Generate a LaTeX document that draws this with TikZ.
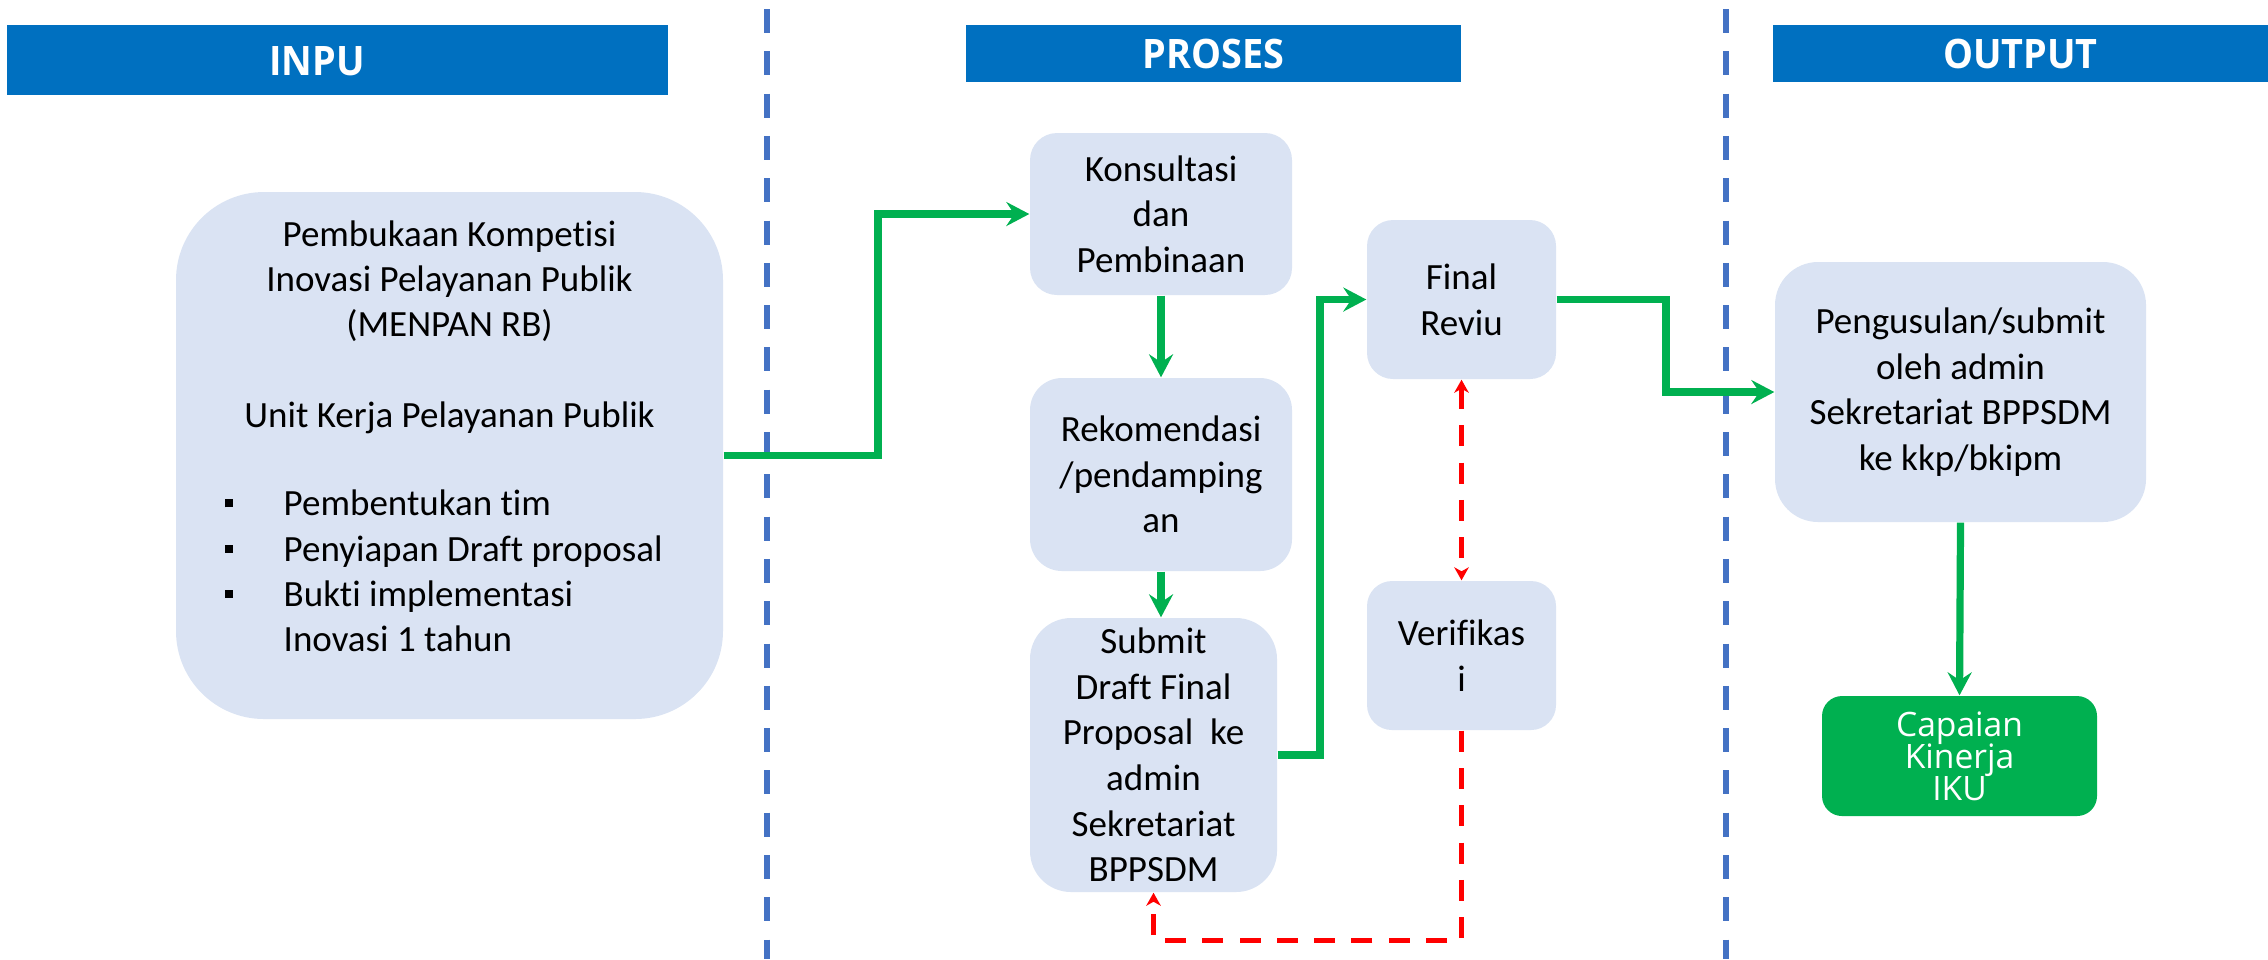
\documentclass[tikz,border=0pt]{standalone}
\usepackage{fontspec}
\setmainfont{Carlito}[Ligatures={NoCommon,NoRequired,NoContextual}, Contextuals=NoAlternate]
\newfontfamily\headfont{Open Sans}[FakeStretch=0.93]
\newfontfamily\goalfont{Open Sans}
\usetikzlibrary{arrows.meta}
\definecolor{boxfill}{HTML}{DAE3F3}
\definecolor{headblue}{HTML}{0070C0}
\definecolor{sepblue}{HTML}{4472C4}
\definecolor{flowgreen}{HTML}{00B050}
\definecolor{backred}{HTML}{FF0000}
\newcommand{\listmark}{\makebox[5.9mm][l]{\rule[0.85mm]{0.8mm}{0.8mm}}}
\begin{document}
% tight lines in the green result box must not fall back to \lineskip
\lineskiplimit=-5mm\relax
\begin{tikzpicture}[x=0.1mm,y=-0.1mm,
  stepbox/.style={fill=boxfill, draw=none, inner sep=0pt, align=center,
    font=\fontsize{3.7mm}{4.56mm}\selectfont},
  bodytext/.style={inner sep=0pt, font=\fontsize{3.7mm}{4.53mm}\selectfont},
  headbar/.style={fill=headblue, draw=none, inner sep=0pt, text=white,
    font=\headfont\bfseries\fontsize{4.06mm}{4.9mm}\selectfont},
  headtext/.style={inner sep=0pt, text=white,
    font=\headfont\bfseries\fontsize{4.06mm}{4.9mm}\selectfont},
  goal/.style={fill=flowgreen, draw=none, text=white, inner sep=0pt, align=center,
    font=\goalfont\fontsize{3.36mm}{3.2mm}\selectfont},
  flow/.style={draw=flowgreen, line width=0.72mm,
    -{Stealth[length=2.3mm,width=2.4mm,inset=0.8mm]}},
  checkline/.style={draw=backred, line width=0.5mm, dash pattern=on 2.1mm off 1.63mm},
  redtip/.tip={Stealth[length=1.3mm,width=1.45mm,inset=0.4mm]},
  divider/.style={draw=sepblue, line width=0.6mm, dash pattern=on 2.4mm off 1.83mm},
]
\useasboundingbox (0,0) rectangle (2268,959);

% column separators
\coordinate (d1top) at (767,9);
\coordinate (d1bot) at (767,959);
\coordinate (d2top) at (1726,9);
\coordinate (d2bot) at (1726,959);
\draw[divider] (d1top) -- (d1bot);
\draw[divider] (d2top) -- (d2bot);

% column headers
\node[headbar, minimum width=66.1mm, minimum height=7.0mm] (hin) at (337.5,60) {};
\node[headtext] (hintxt) at (317,61) {INPU};
\node[headbar, minimum width=49.5mm, minimum height=5.7mm] (hpr) at (1213.5,53.5) {PROSES};
\node[headbar, minimum width=49.5mm, minimum height=5.7mm] (hou) at (2020.5,53.5) {OUTPUT};

% input box
\node[stepbox, rounded corners=8.8mm, minimum width=54.7mm, minimum height=52.7mm] (inp) at (449.5,455.5) {};
\node[bodytext, align=center] (inptop) at (449.5,327)
  {Pembukaan Kompetisi\\Inovasi Pelayanan Publik\\(MENPAN RB)\\[4.53mm]Unit Kerja Pelayanan Publik};
\node[bodytext, align=left, anchor=west] (inplist) at (224,571)
  {\listmark Pembentukan tim\\
   \listmark Penyiapan Draft proposal\\
   \listmark Bukti implementasi\\
   \hspace*{5.9mm}Inovasi 1 tahun};

% process boxes
\node[stepbox, rounded corners=2.7mm, minimum width=26.2mm, minimum height=16.2mm] (kon) at (1161,214)
  {Konsultasi\\dan\\Pembinaan};
\node[stepbox, rounded corners=3.2mm, minimum width=26.2mm, minimum height=19.3mm] (rek) at (1161,474.5)
  {Rekomendasi\\/pendamping\\an};
\node[stepbox, rounded corners=4.1mm, minimum width=24.7mm, minimum height=27.4mm] (sub) at (1153.5,755)
  {Submit\\Draft Final\\Proposal\ \ ke\\admin\\Sekretariat\\BPPSDM};
\node[stepbox, rounded corners=2.6mm, minimum width=18.9mm, minimum height=15.9mm] (fin) at (1461.5,299.5)
  {Final\\Reviu};
\node[stepbox, rounded corners=2.5mm, minimum width=18.9mm, minimum height=14.9mm] (ver) at (1461.5,655.5)
  {Verifikas\\i};

% output boxes
\node[stepbox, rounded corners=4.3mm, minimum width=37.1mm, minimum height=26.0mm] (usl) at (1960.5,392)
  {Pengusulan/submit\\oleh admin\\Sekretariat BPPSDM\\ke kkp/bkipm};
\node[goal, rounded corners=2.0mm, minimum width=27.5mm, minimum height=12.0mm] (cap) at (1959.5,756)
  {Capaian\\Kinerja\\IKU};

% elbow points of the green flow
\coordinate (j1) at (878,0);
\coordinate (j2) at (1320,0);
\coordinate (j3) at (1666,0);
\coordinate (rb) at (0,940);

% main flow
\draw[flow] (inp.east) -- (inp.east -| j1) |- (kon.west);
\draw[flow] (kon.south) -- (rek.north);
\draw[flow] (rek.south) -- (rek.south |- sub.north);
\draw[flow] (sub.east) -- (sub.east -| j2) |- (fin.west);
\draw[flow] (fin.east) -- (fin.east -| j3) |- (usl.west);
\draw[flow] (usl.south) -- (cap.north);

% verification loop
\draw[checkline, redtip-redtip] (fin.south) -- (ver.north);
\draw[checkline, -redtip] (ver.south) -- (ver.south |- rb) -| (sub.south);
\end{tikzpicture}
\end{document}
